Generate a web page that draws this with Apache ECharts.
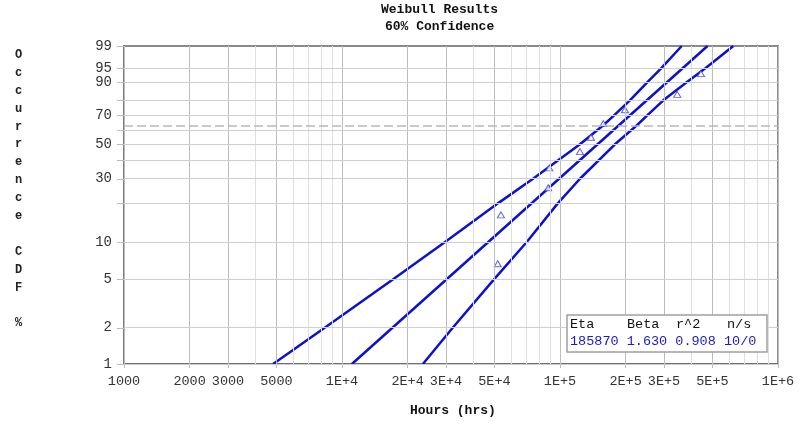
<!DOCTYPE html>
<html>
<head>
<meta charset="utf-8">
<script src="https://cdn.jsdelivr.net/npm/echarts@6/dist/echarts.min.js"></script>
<style>
  html, body { margin: 0; padding: 0; background: #fff; }
  #chart { width: 800px; height: 428px; }
</style>
</head>
<body>
<div id="chart"></div>
<script>
// failure times (hours) and median ranks (%)
const pointHours = [51800, 53600, 88300, 89300, 123500, 138700, 158000, 198700, 345000, 443000]
const pointPct = [6.7, 16.3, 25.9, 35.6, 45.2, 54.8, 64.4, 74.0, 83.7, 93.3]

// fitted line, Eta 185870 / Beta 1.630
const fitHours = [11100, 475000]
const fitPct = [1, 99]

// 60% confidence bounds
const upperHours = [4830, 8330, 17100, 29700, 52100, 75200, 123500, 158000, 176500, 208700, 252500, 291000, 361700]
const upperPct = [1, 2, 5, 10, 20, 30, 50, 63.2, 70, 80, 90, 95, 99]
const lowerHours = [23500, 32200, 49800, 70400, 97900, 123500, 178700, 225400, 250600, 296900, 382600, 464500, 623600]
const lowerPct = [1, 2, 5, 10, 20, 30, 50, 63.2, 70, 80, 90, 95, 99]

const yLabelPct = [1, 2, 5, 10, 30, 50, 70, 90, 95, 99]
const yGridPct = [1, 2, 5, 10, 20, 30, 40, 50, 60, 70, 80, 90, 95, 99]
const xLabelHours = [1000, 2000, 3000, 5000, 1e4, 2e4, 3e4, 5e4, 1e5, 2e5, 3e5, 5e5, 1e6]
const refPct = 63.2

const legendHead = ['Eta', 'Beta', 'r^2', 'n/s']
const legendVals = ['185870', '1.630', '0.908', '10/0']

// weibull probability paper: y = ln(-ln(1-F))
const toT = p => Math.log(-Math.log(1 - p / 100))
const fromT = t => 100 * (1 - Math.exp(-Math.exp(t)))
const pairs = (h, p) => h.map((v, i) => [v, toT(p[i])])

const xGrid = []
for (let k = 3; k < 6; k++) {
  for (let m = 1; m < 10; m++) xGrid.push(m * Math.pow(10, k))
}
xGrid.push(1e6)

const isLabelX = v => xLabelHours.some(l => Math.abs(l - v) / l < 1e-6)

const fmtHours = v => {
  v = Math.round(v)
  if (v < 1e4) return String(v)
  const e = Math.floor(Math.log10(v) + 1e-9)
  return Math.round(v / Math.pow(10, e)) + 'E+' + e
}

const mono = 'Liberation Mono'
const lineBlue = '#0c12cc'

const gridLines = [
  ...xGrid.map(v => ({
    xAxis: v,
    lineStyle: { color: isLabelX(v) ? '#bdbdbd' : '#dedede', width: 1, type: 'solid' }
  })),
  ...yGridPct.map(p => ({
    yAxis: toT(p),
    lineStyle: { color: '#cfcfcf', width: 1, type: 'solid' }
  }))
]

const chart = echarts.init(document.getElementById('chart'))

const colX = [570, 627, 676, 727]

chart.setOption({
  animation: false,
  grid: {
    left: 124, right: 22, top: 46, bottom: 64,
    show: true, borderColor: '#8a8a8a', borderWidth: 2
  },
  xAxis: {
    type: 'log',
    logBase: 10,
    min: 1000,
    max: 1e6,
    splitLine: { show: false },
    axisLine: { onZero: false, lineStyle: { color: '#6e6e6e', width: 2 } },
    axisTick: { customValues: xLabelHours, length: 4, lineStyle: { color: '#bbb' } },
    axisLabel: {
      customValues: xLabelHours,
      formatter: fmtHours,
      fontFamily: mono, fontSize: 13.5, color: '#333', margin: 10
    }
  },
  yAxis: {
    type: 'value',
    min: toT(1),
    max: toT(99),
    splitLine: { show: false },
    axisLine: { show: true, onZero: false, lineStyle: { color: '#7a7a7a', width: 2 } },
    axisTick: { show: true, customValues: yGridPct.map(toT), length: 7, lineStyle: { color: '#bbb' } },
    axisLabel: {
      customValues: yLabelPct.map(toT),
      formatter: v => String(Math.round(fromT(v))),
      fontFamily: mono, fontSize: 14, color: '#333', margin: 12
    }
  },
  graphic: [
    { type: 'text', left: 441 - 60, top: 3, style: { text: 'Weibull Results', font: 'bold 13px "Liberation Mono"', fill: '#111' } },
    { type: 'text', left: 441 - 56, top: 20, style: { text: '60% Confidence', font: 'bold 13px "Liberation Mono"', fill: '#111' } },
    { type: 'text', left: 410, top: 404, style: { text: 'Hours (hrs)', font: 'bold 13px "Liberation Mono"', fill: '#111' } },
    {
      type: 'text', left: 15, top: 46,
      style: {
        text: 'O\nc\nc\nu\nr\nr\ne\nn\nc\ne\n\nC\nD\nF\n\n%',
        font: 'bold 12px "Liberation Mono"', lineHeight: 17.9, fill: '#222'
      }
    },
    {
      type: 'rect', z: 20,
      shape: { x: 567, y: 315, width: 200, height: 37 },
      style: { fill: '#fff', stroke: '#a0a0a0', lineWidth: 1.5 }
    },
    ...legendHead.map((t, i) => ({
      type: 'text', z: 21, x: colX[i], y: 317,
      style: { text: t, font: '13.5px "Liberation Mono"', fill: '#111' }
    })),
    {
      type: 'text', z: 21, x: 570, y: 334,
      style: { text: legendVals.join(' '), font: '13.5px "Liberation Mono"', fill: '#1a1acc' }
    }
  ],
  series: [
    {
      name: 'grid', type: 'line', data: [], z: 1, silent: true,
      markLine: { silent: true, symbol: ['none', 'none'], label: { show: false }, animation: false, data: gridLines }
    },
    {
      name: 'ref', type: 'line', data: [], z: 2, silent: true,
      markLine: {
        silent: true, symbol: ['none', 'none'], label: { show: false }, animation: false,
        data: [{ yAxis: toT(refPct) }],
        lineStyle: { color: '#b8b8b8', width: 1.5, type: [9, 4] }
      }
    },
    {
      name: 'upper', type: 'line', z: 3, showSymbol: false,
      data: pairs(upperHours, upperPct),
      lineStyle: { color: lineBlue, width: 2.5 }
    },
    {
      name: 'fit', type: 'line', z: 3, showSymbol: false,
      data: pairs(fitHours, fitPct),
      lineStyle: { color: lineBlue, width: 2.5 }
    },
    {
      name: 'lower', type: 'line', z: 3, showSymbol: false,
      data: pairs(lowerHours, lowerPct),
      lineStyle: { color: lineBlue, width: 2.5 }
    },
    {
      name: 'points', type: 'scatter', z: 4,
      symbol: 'triangle', symbolSize: [7, 6],
      data: pairs(pointHours, pointPct),
      itemStyle: { color: '#fff', borderColor: '#3a3ad0', borderWidth: 1 }
    }
  ]
})
</script>
</body>
</html>
